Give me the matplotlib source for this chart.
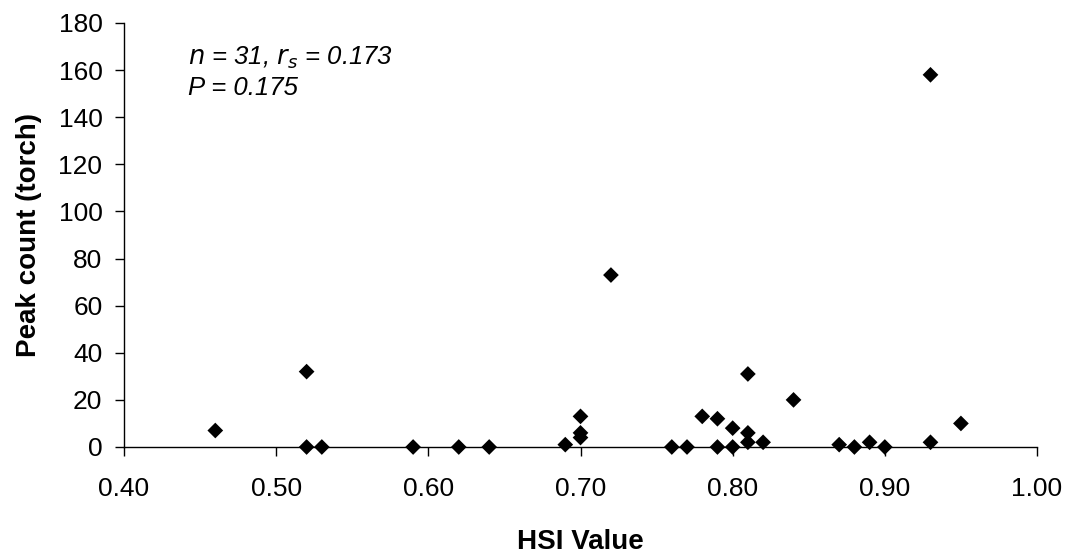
import matplotlib
matplotlib.use("Agg")
import matplotlib.pyplot as plt
from matplotlib.ticker import MultipleLocator, FormatStrFormatter

plt.rcParams['font.family'] = ['Liberation Sans', 'DejaVu Sans']

hsi = [0.46, 0.52, 0.52, 0.53, 0.59, 0.62, 0.64, 0.69, 0.70, 0.70, 0.70,
       0.72, 0.76, 0.77, 0.78, 0.79, 0.79, 0.80, 0.80, 0.81, 0.81, 0.81,
       0.82, 0.84, 0.87, 0.88, 0.89, 0.90, 0.93, 0.93, 0.95]
peak = [7, 32, 0, 0, 0, 0, 0, 1, 13, 6, 4,
        73, 0, 0, 13, 12, 0, 8, 0, 31, 6, 2,
        2, 20, 1, 0, 2, 0, 2, 158, 10]

fig = plt.figure(figsize=(10.73, 5.55), dpi=100)
ax = fig.add_axes([124/1073, 1-447/555, (1037-124)/1073, (447-23)/555])

ax.scatter(hsi, peak, marker='D', s=8**2, color='black', edgecolors='none',
           zorder=3, clip_on=False)

ax.set_xlim(0.40, 1.00)
ax.set_ylim(0, 180)
ax.xaxis.set_major_locator(MultipleLocator(0.1))
ax.xaxis.set_major_formatter(FormatStrFormatter('%.2f'))
ax.yaxis.set_major_locator(MultipleLocator(20))

for s in ['top', 'right']:
    ax.spines[s].set_visible(False)
for s in ['left', 'bottom']:
    ax.spines[s].set_linewidth(1.0)
ax.tick_params(direction='out', length=6.5, width=1.0, labelsize=19)
ax.tick_params(axis='x', pad=15)
ax.tick_params(axis='y', pad=9)

ax.set_xlabel('HSI Value', fontsize=20, fontweight='bold', labelpad=20)
ax.set_ylabel('Peak count (torch)', fontsize=20, fontweight='bold', labelpad=12)

ax.text(0.070, 0.901, r'$\mathit{n}$ = 31, $\mathit{r_s}$ = 0.173', transform=ax.transAxes,
        fontsize=18.5, style='italic', va='baseline')
ax.text(0.070, 0.830, 'P = 0.175', transform=ax.transAxes,
        fontsize=18.5, style='italic', va='baseline')

fig.savefig('out.png', dpi=100)
